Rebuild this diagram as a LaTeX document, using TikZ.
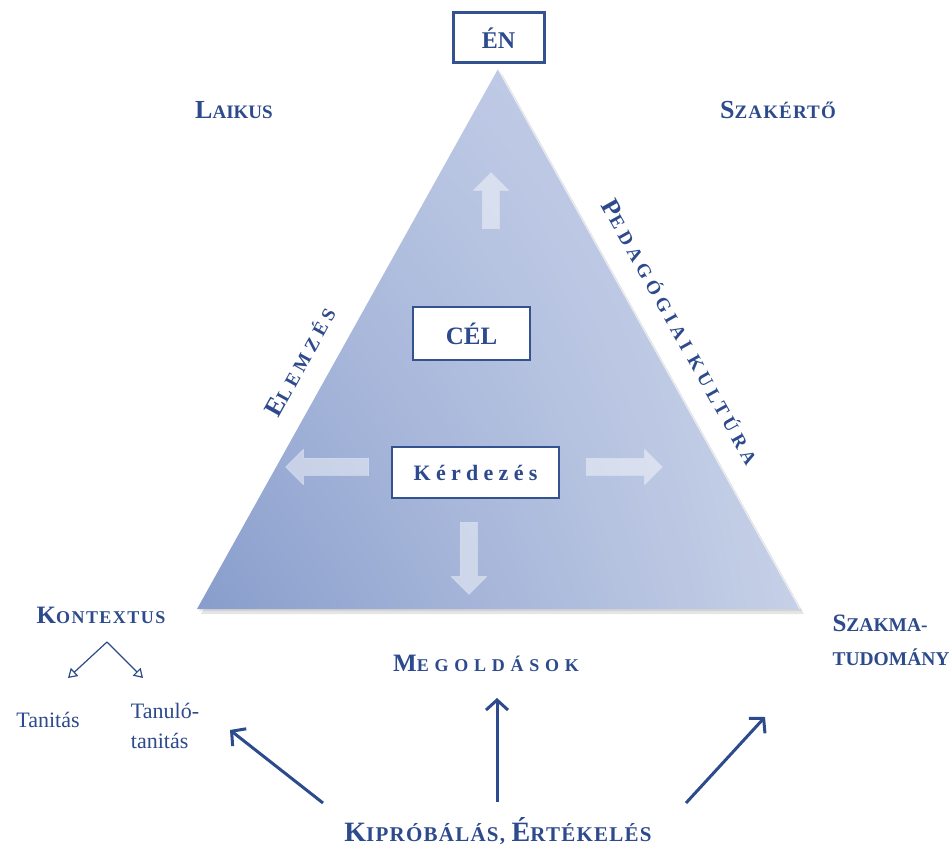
\documentclass[tikz,border=0pt]{standalone}
\usepackage{fontspec}
\setmainfont{Liberation Serif}
\usetikzlibrary{arrows.meta,shapes.arrows,shadings,positioning}

\definecolor{felirat}{HTML}{2C4A8C}
\definecolor{keretkek}{HTML}{34528F}
\definecolor{haromLL}{HTML}{889DCC}
\definecolor{haromLR}{HTML}{C6D0E7}
\definecolor{haromUL}{HTML}{B0BEDF}
\definecolor{haromUR}{HTML}{CDD6EB}

% nagyobb kezdobetu a kiskapitalis feliratokhoz
\newcommand{\nagyb}[2]{{\fontsize{#1}{#1}\selectfont #2}}

\tikzset{
  cimke/.style={text=felirat,font=\bfseries\fontsize{19}{22}\selectfont},
  doboz/.style={draw=keretkek,fill=white,line width=1.6pt,text=felirat},
  halvanynyil/.style={single arrow,draw=white!70!haromLL,fill=white,fill opacity=.45,
    inner sep=8.5pt,single arrow head extend=9pt},
  nagynyil/.style={draw=felirat,line width=3pt,-{Straight Barb[length=10pt,width=22pt]}},
  kisnyil/.style={draw=felirat,line width=1.2pt,-{Triangle[open,length=9pt,width=11pt]}}
}

\begin{document}
\begin{tikzpicture}[x=1pt,y=1pt]
\fill[white] (0,0) rectangle (952,847);
\useasboundingbox (0,0) rectangle (952,847);

% haromszog
\coordinate (csucs) at (498,778);
\coordinate (balsarok) at (197,238);
\coordinate (jobbsarok) at (800,238);
\fill[black,opacity=.10] ([shift={(4,-5)}]balsarok) -- ([shift={(4,-5)}]csucs) -- ([shift={(4,-5)}]jobbsarok) -- cycle;
\fill[black,opacity=.08] ([shift={(2,-2)}]balsarok) -- ([shift={(2,-2)}]csucs) -- ([shift={(2,-2)}]jobbsarok) -- cycle;
\shade[upper left=haromUL,upper right=haromUR,lower left=haromLL,lower right=haromLR]
  (balsarok) -- (csucs) -- (jobbsarok) -- cycle;
\draw[white,opacity=.6,line width=1.2pt] (csucs) -- (jobbsarok);

\node[doboz,line width=3pt,minimum width=91pt,minimum height=50pt,font=\bfseries\fontsize{24}{24}\selectfont] (en) at (498.5,809) {ÉN};
\node[cimke] (laikus) at (234,737) {\nagyb{26}{L}AIKUS};
\node[cimke] (szakerto) at (778,737) {\addfontfeatures{LetterSpace=6}\nagyb{26}{S}ZAKÉRTŐ};

% belso nyilak
\node[halvanynyil,minimum height=56pt,rotate=90] (felfele) at (491,642) {};
\node[halvanynyil,minimum height=83pt,rotate=180] (balra) at (331.5,380) {};
\node[halvanynyil,minimum height=76pt] (jobbra) at (620,380) {};
\node[halvanynyil,minimum height=72pt,rotate=-90] (lefele) at (469,293) {};

\node[doboz,minimum width=117pt,minimum height=53pt,font=\bfseries\fontsize{25}{25}\selectfont] (cel) at (471.5,513.5) {CÉL};
\node[doboz,minimum width=167pt,minimum height=51pt,font=\bfseries\fontsize{22}{22}\selectfont] (kerdezes) at (475.5,374.5) {\addfontfeatures{LetterSpace=24}Kérdezés};

% oldalak feliratai
\node[cimke,rotate=60.9,font=\bfseries\fontsize{19}{19}\selectfont] (elemzes) at (300,485) {\addfontfeatures{LetterSpace=25}\nagyb{26}{E}LEMZÉS};
\node[cimke,rotate=-60.8,font=\bfseries\fontsize{19}{19}\selectfont] (pedkult) at (681,515) {\addfontfeatures{LetterSpace=25}\nagyb{26}{P}EDAGÓGIAI KULTÚRA};

% kontextus
\node[cimke,font=\bfseries\fontsize{18}{18}\selectfont] (kontextus) at (101,232) {\addfontfeatures{LetterSpace=8}\nagyb{25}{K}ONTEXTUS};
\coordinate (elagazas) at (107,205);
\coordinate (tanitasnyil) at (68,169);
\coordinate (tanulonyil) at (143,169);
\draw[kisnyil] (elagazas) -- (tanitasnyil);
\draw[kisnyil] (elagazas) -- (tanulonyil);
\node[text=felirat,font=\fontsize{22}{22}\selectfont] (tanitas) at (48,127) {Tanitás};
\node[text=felirat,align=left,font=\fontsize{22}{30}\selectfont] (tanulo) at (165,121) {Tanuló-\\tanitás};

\node[cimke,align=left,font=\bfseries\fontsize{19.5}{34}\selectfont] (szakma) at (891,207) {\nagyb{25}{S}ZAKMA-\\TUDOMÁNY};

\node[cimke,font=\bfseries\fontsize{18}{18}\selectfont] (megoldasok) at (486,184) {\addfontfeatures{LetterSpace=32}\nagyb{25}{M}EGOLDÁSOK};
\node[cimke,anchor=base,font=\bfseries\fontsize{21}{21}\selectfont] (kiprobalas) at (498,6) {\addfontfeatures{LetterSpace=6}\nagyb{28}{K}IPRÓBÁLÁS, \nagyb{28}{É}RTÉKELÉS};

% nagy nyilak
\coordinate (balindul) at (323,44);
\coordinate (balcel) at (230,117);
\coordinate (kozepindul) at (497,45);
\coordinate (kozepcel) at (497,149);
\coordinate (jobbindul) at (686,44);
\coordinate (jobbcel) at (765,130);
\draw[nagynyil] (balindul) -- (balcel);
\draw[nagynyil] (kozepindul) -- (kozepcel);
\draw[nagynyil] (jobbindul) -- (jobbcel);
\end{tikzpicture}
\end{document}
